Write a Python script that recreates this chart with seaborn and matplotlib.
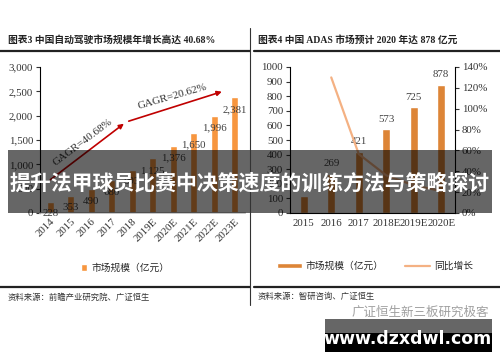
import numpy as np
import matplotlib
matplotlib.use("Agg")
import matplotlib.pyplot as plt
import seaborn as sns
from matplotlib.patches import Patch, Rectangle
from matplotlib.lines import Line2D

# data
years_l = ["2014", "2015", "2016", "2017", "2018", "2019E", "2020E", "2021E", "2022E", "2023E"]
market_l = [228, 353, 490, 680, 893, 1125, 1376, 1650, 1996, 2381]

years_r = ["2015", "2016", "2017", "2018E", "2019E", "2020E"]
market_r = [117, 269, 421, 573, 725, 878]
growth_r = [None, 1.30, 0.565, 0.361, 0.265, 0.211]

sns.set_theme(style="white")
plt.rcParams["font.family"] = ["Liberation Serif", "Noto Sans CJK SC"]

W, H = 500, 362
fig = plt.figure(figsize=(5, 3.62), dpi=100)


def fx(x):
    return x / W


def fy(y):
    return 1 - y / H


# ---- left chart ----
ax1 = fig.add_axes([fx(40), fy(213), fx(205), 146 / H])
sns.barplot(x=years_l, y=market_l, color="#F7963F", width=0.35, ax=ax1, saturation=1)
ax1.set_xlim(-0.5, 9.5)
ax1.set_ylim(0, 3000)
ax1.set_yticks(range(0, 3001, 500))
ax1.set_yticklabels([f"{v:,}" for v in range(0, 3001, 500)])
ax1.set_xlabel("")
ax1.set_ylabel("")
for s in ["top", "right"]:
    ax1.spines[s].set_visible(False)
ax1.spines["left"].set_color("black")
ax1.spines["left"].set_linewidth(0.8)
ax1.spines["bottom"].set_color("#BFBFBF")
ax1.tick_params(axis="y", direction="out", length=3, width=0.8, left=True, labelsize=7.8, pad=2, colors="#333333")
ax1.tick_params(axis="x", length=0, labelsize=7.8, pad=3, colors="#333333")
for lab in ax1.get_xticklabels():
    lab.set_rotation(45)
    lab.set_ha("right")
    lab.set_rotation_mode("anchor")
for i, v in enumerate(market_l):
    ax1.text(i, max(v - 250, 0), f"{v:,}", ha="center", va="center", fontsize=7.8, color="#404040")

ax1.annotate("", xy=(3.7, 1870), xytext=(-0.1, 650),
             arrowprops=dict(arrowstyle="-|>", color="#C00000", lw=1.2, mutation_scale=7))
ax1.annotate("", xy=(8.5, 2510), xytext=(3.7, 1870),
             arrowprops=dict(arrowstyle="-|>", color="#C00000", lw=1.2, mutation_scale=7))
ax1.text(1.56, 1460, "GAGR=40.68%", rotation=37, ha="center", va="center", fontsize=8, color="#333333")
ax1.text(5.95, 2385, "GAGR=20.62%", rotation=16, ha="center", va="center", fontsize=8, color="#333333")

# ---- right chart ----
ax2 = fig.add_axes([fx(290), fy(213), fx(165), 146 / H])
sns.barplot(x=years_r, y=market_r, color="#DD8537", width=0.3, ax=ax2, saturation=1)
ax2.set_xlim(-0.5, 5.5)
ax2.set_ylim(0, 1000)
ax2.set_yticks(range(0, 1001, 100))
ax2.set_xlabel("")
ax2.set_ylabel("")
ax2.spines["top"].set_visible(False)
ax2.spines["right"].set_visible(False)
for s in ["left", "bottom"]:
    ax2.spines[s].set_color("black")
    ax2.spines[s].set_linewidth(0.8)
ax2.tick_params(axis="y", direction="out", length=3, width=0.8, left=True, labelsize=7.8, pad=2, colors="#333333")
ax2.tick_params(axis="x", length=0, labelsize=7.8, pad=4, colors="#333333")
for i, v in enumerate(market_r):
    if i > 0:
        ax2.text(i, v + 68, str(v), ha="center", va="center", fontsize=7.8, color="#404040")

ax3 = ax2.twinx()
gx = [i for i, g in enumerate(growth_r) if g is not None]
gy = [g for g in growth_r if g is not None]
sns.lineplot(x=gx, y=gy, color="#F4B183", lw=1.6, ax=ax3)
ax3.set_ylim(0, 1.4)
ax3.set_yticks(np.arange(0, 1.41, 0.2))
ax3.set_yticklabels([f"{int(round(t * 100))}%" for t in np.arange(0, 1.41, 0.2)])
for s in ["top", "left", "bottom"]:
    ax3.spines[s].set_visible(False)
ax3.spines["right"].set_color("black")
ax3.spines["right"].set_linewidth(0.8)
ax3.tick_params(axis="y", direction="out", length=3, width=0.8, right=True, labelsize=7.8, pad=2, colors="#333333")
ax3.set_ylabel("")

# ---- titles, rules, legends, sources ----
fig.text(fx(8), fy(40), "图表3 中国自动驾驶市场规模年增长高达 40.68%", fontsize=7, fontweight="bold",
         va="center", ha="left", color="#222222")
fig.text(fx(258), fy(40), "图表4 中国 ADAS 市场预计 2020 年达 878 亿元", fontsize=7, fontweight="bold",
         va="center", ha="left", color="#222222")
for x0, x1 in [(0, 250), (254, 500)]:
    fig.add_artist(Line2D([fx(x0), fx(x1)], [fy(51), fy(51)], color="#222222", lw=1.6))
    fig.add_artist(Line2D([fx(x0), fx(x1)], [fy(287), fy(287)], color="#222222", lw=1.6))
fig.add_artist(Line2D([fx(250), fx(250)], [fy(28), fy(305)], color="#333333", lw=0.8))

fig.legend(handles=[Patch(facecolor="#F7963F")], labels=["市场规模（亿元）"],
           loc="center", bbox_to_anchor=(fx(125), fy(268)), frameon=False, fontsize=7,
           handlelength=0.7, handleheight=0.7, handletextpad=0.4)
fig.legend(handles=[Patch(facecolor="#DD8537"), Line2D([], [], color="#F4B183", lw=1.6)],
           labels=["市场规模（亿元）", "同比增长"], ncol=2,
           loc="center", bbox_to_anchor=(fx(375), fy(266)), frameon=False, fontsize=7,
           handlelength=2.6, handleheight=0.45, handletextpad=0.4, columnspacing=2.2)

fig.text(fx(8), fy(298), "资料来源：前瞻产业研究院、广证恒生", fontsize=6, va="center", color="#333333")
fig.text(fx(258), fy(297), "资料来源：智研咨询、广证恒生", fontsize=6, va="center", color="#333333")

# ---- overlay banner ----
fig.add_artist(Rectangle((fx(8), fy(213)), fx(484), 63 / H, transform=fig.transFigure,
                         facecolor="black", alpha=0.6, edgecolor="none"))
fig.text(0.5, fy(183), "提升法甲球员比赛中决策速度的训练方法与策略探讨", fontsize=15, fontweight="bold",
         color="white", ha="center", va="center", family=["Noto Sans CJK SC", "DejaVu Sans"])

# ---- watermark ----
fig.text(fx(420), fy(312), "广证恒生新三板研究极客", fontsize=9, color="#A0A0A0", ha="center", va="center",
         family=["Noto Sans CJK SC", "DejaVu Sans"])
fig.add_artist(Rectangle((fx(325), fy(352)), fx(167), 33 / H, transform=fig.transFigure,
                         facecolor="black", edgecolor="none"))
fig.add_artist(Rectangle((fx(325), fy(333)), fx(167), 14 / H, transform=fig.transFigure,
                         facecolor="#666666", edgecolor="none"))
fig.text(fx(408), fy(339), "www.dzxdwl.com", fontsize=12.5, fontweight="bold", color="white",
         ha="center", va="center", family=["DejaVu Sans"])

fig.savefig("out.png", dpi=100)
